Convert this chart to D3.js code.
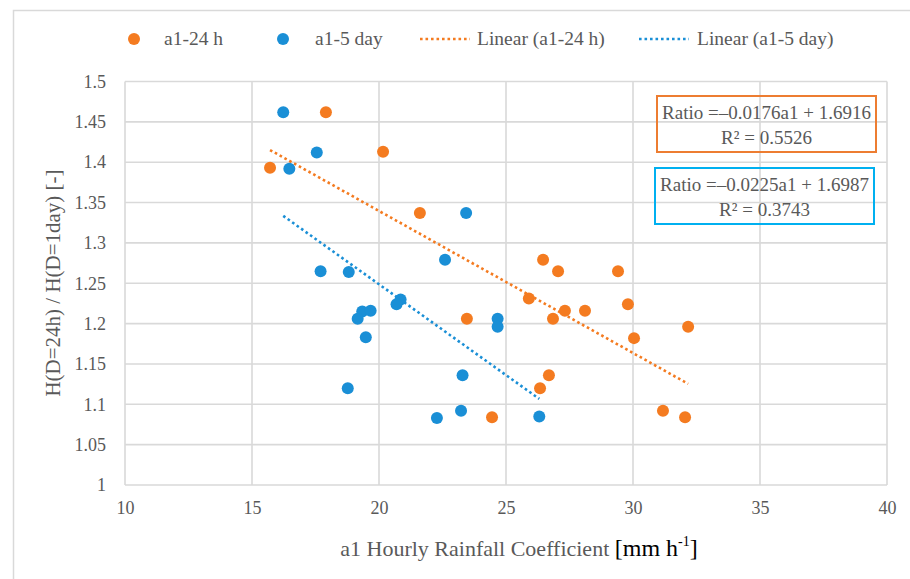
<!DOCTYPE html>
<html>
<head>
<meta charset="utf-8">
<script src="https://cdn.jsdelivr.net/npm/d3@7"></script>
<style>
  body { margin: 0; background: #fff; }
  svg text { font-family: "Liberation Serif", "DejaVu Serif", serif !important; fill: #595959; }
</style>
</head>
<body>
<svg id="chart" width="910" height="579"></svg>
<script>
// a1 values (x) and ratio H(24h)/H(1day) (y)
const a1_24h = [15.71, 17.91, 20.16, 21.61, 23.46, 24.45, 25.9, 26.46, 27.05, 26.85,
                27.32, 28.11, 26.34, 26.69, 29.41, 29.8, 30.04, 32.17, 31.18, 32.05];
const ratio_24h = [1.393, 1.462, 1.413, 1.337, 1.206, 1.084, 1.231, 1.279, 1.265, 1.206,
                   1.216, 1.216, 1.12, 1.136, 1.265, 1.224, 1.182, 1.196, 1.092, 1.084];

const a1_5day = [16.23, 17.55, 16.47, 23.43, 22.6, 17.7, 18.81, 19.34, 19.67, 19.16,
                 19.48, 20.85, 20.69, 24.67, 24.67, 18.77, 23.29, 23.23, 22.28, 26.31];
const ratio_5day = [1.462, 1.412, 1.392, 1.337, 1.279, 1.265, 1.264, 1.215, 1.216, 1.206,
                    1.183, 1.23, 1.224, 1.206, 1.196, 1.12, 1.136, 1.092, 1.083, 1.085];

// linear trend: [slope, intercept, R2]
const trend_24h = [-0.0176, 1.6916, 0.5526];
const trend_5day = [-0.0225, 1.6987, 0.3743];

const xTicks = [10, 15, 20, 25, 30, 35, 40];
const yTicks = [1, 1.05, 1.1, 1.15, 1.2, 1.25, 1.3, 1.35, 1.4, 1.45, 1.5];

const seriesNames = ["a1-24 h", "a1-5 day", "Linear (a1-24 h)", "Linear (a1-5 day)"];

const ORANGE = "#f47b20", BLUE = "#1a8fd6";
const BOX_ORANGE = "#ed7d31", BOX_BLUE = "#00b0f0";
const GRID = "#d9d9d9";
const FONT = "'Liberation Serif', 'DejaVu Serif', serif";

const svg = d3.select("#chart").attr("font-family", FONT);

// outer chart frame (runs off the right/bottom edge)
svg.append("rect").attr("x", 13.5).attr("y", 10.5).attr("width", 1000).attr("height", 1000)
    .attr("fill", "none").attr("stroke", GRID).attr("stroke-width", 1.5);

const x = d3.scaleLinear().domain([10, 40]).range([125, 887]);
const y = d3.scaleLinear().domain([1, 1.5]).range([485, 81.5]);

// grid
svg.append("g").selectAll("line").data(xTicks).join("line")
    .attr("x1", d => x(d)).attr("x2", d => x(d))
    .attr("y1", y(1.5)).attr("y2", y(1))
    .attr("stroke", GRID).attr("stroke-width", 1.6);
svg.append("g").selectAll("line").data(yTicks).join("line")
    .attr("x1", x(10)).attr("x2", x(40))
    .attr("y1", d => y(d)).attr("y2", d => y(d))
    .attr("stroke", GRID).attr("stroke-width", 1.6);

// axes labels
const xAxis = d3.axisBottom(x).tickValues(xTicks).tickSize(0).tickPadding(16);
const gx = svg.append("g").attr("transform", `translate(0,${y(1)})`).call(xAxis);
gx.attr("font-family", FONT);
gx.select(".domain").remove();
gx.selectAll("text").style("font-size", "18px");

const yAxis = d3.axisLeft(y).tickValues(yTicks).tickSize(0).tickPadding(19)
    .tickFormat(d3.format("~g"));
const gy = svg.append("g").attr("transform", `translate(${x(10)},0)`).call(yAxis);
gy.attr("font-family", FONT);
gy.select(".domain").remove();
gy.selectAll("text").style("font-size", "18px");

// trend lines over the data range of each series
function trend(xs, coef, color) {
    const ext = d3.extent(xs);
    svg.append("line")
        .attr("x1", x(ext[0])).attr("y1", y(coef[0] * ext[0] + coef[1]))
        .attr("x2", x(ext[1])).attr("y2", y(coef[0] * ext[1] + coef[1]))
        .attr("stroke", color).attr("stroke-width", 2.6)
        .attr("stroke-dasharray", "2.6 2.9");
}
trend(a1_24h, trend_24h, ORANGE);
trend(a1_5day, trend_5day, BLUE);

// points
svg.append("g").selectAll("circle").data(d3.range(a1_24h.length)).join("circle")
    .attr("cx", i => x(a1_24h[i])).attr("cy", i => y(ratio_24h[i]))
    .attr("r", 6).attr("fill", ORANGE);
svg.append("g").selectAll("circle").data(d3.range(a1_5day.length)).join("circle")
    .attr("cx", i => x(a1_5day[i])).attr("cy", i => y(ratio_5day[i]))
    .attr("r", 6).attr("fill", BLUE);

// equation boxes
function eqBox(coef, color, bx, by) {
    svg.append("rect").attr("x", bx).attr("y", by).attr("width", 219).attr("height", 56)
        .attr("fill", "none").attr("stroke", color).attr("stroke-width", 2);
    const fmt = d3.format(".4f");
    svg.append("text").attr("x", bx + 109.5).attr("y", by + 23)
        .attr("text-anchor", "middle").style("font-size", "19px")
        .text("Ratio =\u2013" + fmt(-coef[0]) + "a1 + " + fmt(coef[1]));
    svg.append("text").attr("x", bx + 109.5).attr("y", by + 48)
        .attr("text-anchor", "middle").style("font-size", "19px")
        .text("R\u00b2 = " + fmt(coef[2]));
}
eqBox(trend_24h, BOX_ORANGE, 657, 96);
eqBox(trend_5day, BOX_BLUE, 655, 168);

// legend
const leg = svg.append("g").style("font-size", "19.5px");
leg.append("circle").attr("cx", 134).attr("cy", 39).attr("r", 6).attr("fill", ORANGE);
leg.append("text").attr("x", 164).attr("y", 45).text(seriesNames[0]);
leg.append("circle").attr("cx", 283).attr("cy", 39).attr("r", 6).attr("fill", BLUE);
leg.append("text").attr("x", 315).attr("y", 45).text(seriesNames[1]);
leg.append("line").attr("x1", 420).attr("x2", 470).attr("y1", 39).attr("y2", 39)
    .attr("stroke", ORANGE).attr("stroke-width", 2.6).attr("stroke-dasharray", "2.6 2.9");
leg.append("text").attr("x", 477).attr("y", 45).text(seriesNames[2]);
leg.append("line").attr("x1", 639).attr("x2", 689).attr("y1", 39).attr("y2", 39)
    .attr("stroke", BLUE).attr("stroke-width", 2.6).attr("stroke-dasharray", "2.6 2.9");
leg.append("text").attr("x", 697).attr("y", 45).text(seriesNames[3]);

// axis titles
svg.append("text").attr("transform", "translate(60,283) rotate(-90)")
    .attr("text-anchor", "middle").style("font-size", "21px")
    .text("H(D=24h) / H(D=1day) [-]");

const xt = svg.append("text").attr("x", 519).attr("y", 556)
    .attr("text-anchor", "middle").style("font-size", "22px");
xt.append("tspan").text("a1 Hourly Rainfall Coefficient ");
xt.append("tspan").style("fill", "#000").style("font-size", "24px").text("[mm h");
xt.append("tspan").style("fill", "#000").style("font-size", "14px").attr("dy", -10).text("-1");
xt.append("tspan").style("fill", "#000").style("font-size", "24px").attr("dy", 10).text("]");
</script>
</body>
</html>
